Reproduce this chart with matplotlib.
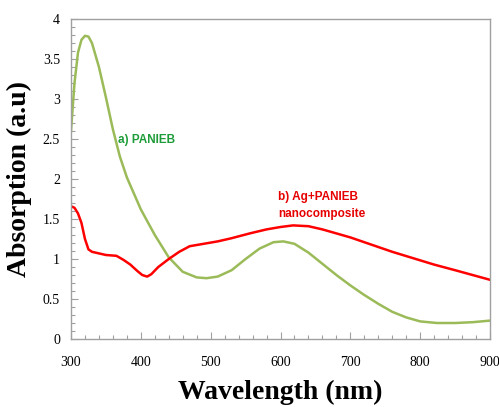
import numpy as np
import matplotlib
matplotlib.use("Agg")
import matplotlib.pyplot as plt
from matplotlib.ticker import MultipleLocator

# =========================
# DATA
# =========================

wl_a = [300, 305, 310, 315, 320, 325, 330, 340, 350, 360, 370, 380, 390, 400,
        420, 440, 460, 480, 494, 510, 530, 550, 570, 590, 604, 620, 640, 660,
        680, 700, 720, 740, 760, 780, 800, 824, 850, 875, 900]
abs_a = [2.60, 3.20, 3.58, 3.74, 3.79, 3.78, 3.70, 3.40, 3.02, 2.62, 2.28,
         2.02, 1.82, 1.62, 1.30, 1.02, 0.84, 0.77, 0.76, 0.78, 0.86, 1.00,
         1.13, 1.21, 1.22, 1.19, 1.08, 0.94, 0.80, 0.67, 0.55, 0.44, 0.34,
         0.27, 0.22, 0.20, 0.20, 0.21, 0.23]

wl_b = [300, 305, 310, 315, 320, 325, 330, 340, 350, 365, 375, 385, 395, 402,
        409, 415, 425, 440, 455, 470, 490, 510, 530, 556, 580, 600, 618, 640,
        660, 680, 700, 730, 760, 790, 820, 850, 875, 900]
abs_b = [1.66, 1.64, 1.57, 1.45, 1.25, 1.12, 1.09, 1.07, 1.05, 1.04, 0.99,
         0.93, 0.85, 0.80, 0.78, 0.81, 0.90, 1.00, 1.09, 1.16, 1.19, 1.22,
         1.26, 1.32, 1.37, 1.40, 1.42, 1.41, 1.37, 1.32, 1.27, 1.18, 1.09,
         1.01, 0.93, 0.86, 0.80, 0.74]

label_a = "a) PANIEB"
label_b = "b) Ag+PANIEB\nnanocomposite"

# =========================
# PLOT
# =========================

plt.rcParams['font.family'] = ['Liberation Serif', 'DejaVu Serif']

fig = plt.figure(figsize=(4.99, 4.07), dpi=100)
ax = fig.add_axes([71 / 499, 1 - 339 / 407, 419 / 499, 320 / 407])

ax.plot(wl_a, abs_a, color='#9bbb59', lw=1.8)
ax.plot(wl_b, abs_b, color='#ff0000', lw=1.8)

ax.set_xlim(300, 900)
ax.set_ylim(0, 4)
ax.xaxis.set_major_locator(MultipleLocator(100))
ax.xaxis.set_minor_locator(MultipleLocator(20))
ax.yaxis.set_major_locator(MultipleLocator(0.5))
ax.yaxis.set_minor_locator(MultipleLocator(0.1))
ax.yaxis.set_major_formatter(plt.FuncFormatter(lambda v, p: f"{v:g}"))

ax.tick_params(which='both', direction='in', color='#a0a0a0',
               labelsize=10, top=False, right=False)
ax.tick_params(which='major', length=5, width=0.8)
ax.tick_params(which='minor', length=3, width=0.8)
ax.tick_params(axis='x', pad=12)
ax.tick_params(axis='y', pad=8)

for s in ax.spines.values():
    s.set_color('#a0a0a0')
    s.set_linewidth(1.0)

ax.set_xlabel("Wavelength (nm)", fontsize=20, fontweight='bold', labelpad=8)
ax.set_ylabel("Absorption (a.u)", fontsize=20, fontweight='bold', labelpad=8)

lab_font = ['Liberation Sans Narrow', 'Liberation Sans', 'DejaVu Sans']
ax.text(367, 2.49, label_a, color='#1e9c3a', fontsize=8.5,
        fontweight='bold', family=lab_font, va='center', ha='left')
ax.text(597, 1.67, label_b, color='#e60000', fontsize=8.5,
        fontweight='bold', family=lab_font, va='center', ha='left',
        linespacing=1.6)

fig.savefig("out.png", dpi=100)
